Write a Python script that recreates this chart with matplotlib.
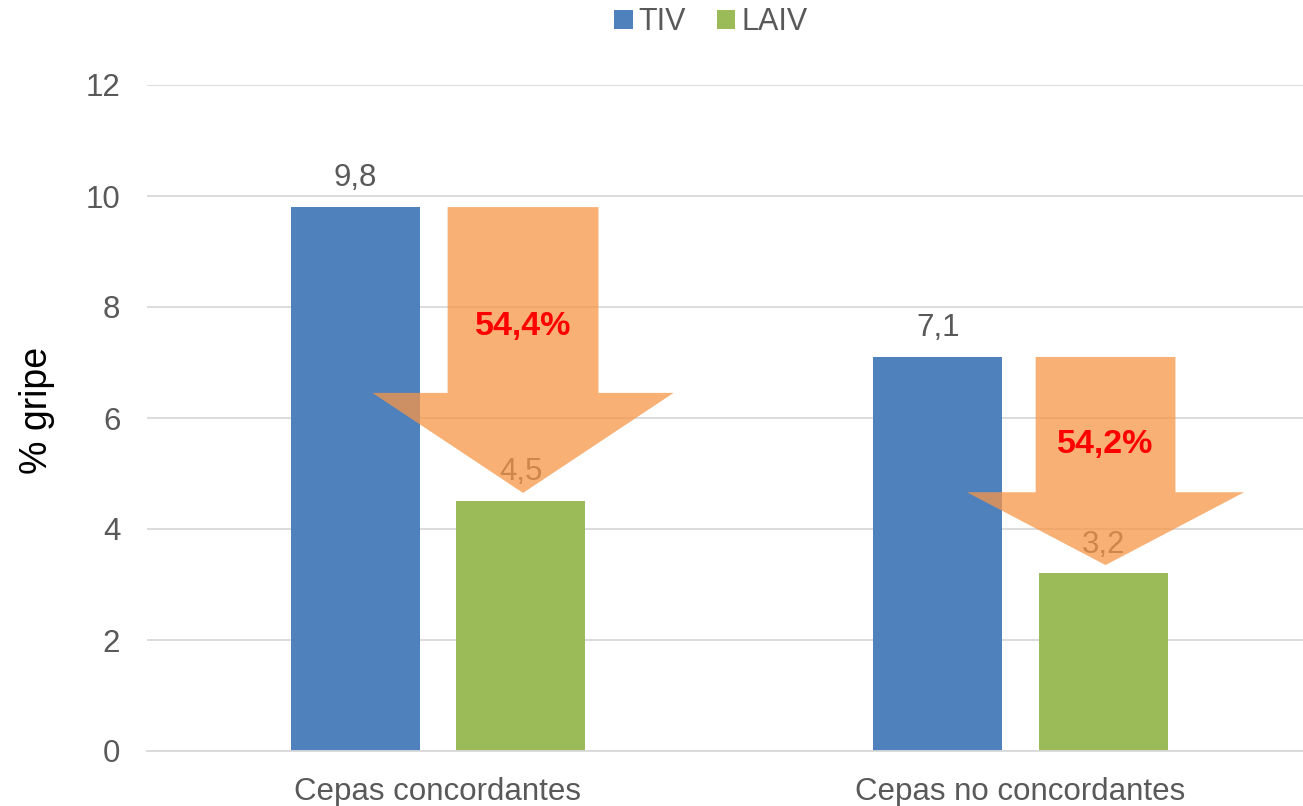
import numpy as np
import matplotlib
matplotlib.use("Agg")
import matplotlib.pyplot as plt
from matplotlib.patches import Polygon

plt.rcParams['font.family'] = ['Liberation Sans', 'DejaVu Sans']

# data
categories = ["Cepas concordantes", "Cepas no concordantes"]
tiv = [9.8, 7.1]
laiv = [4.5, 3.2]
reduction = [54.4, 54.2]

fmt = lambda v: f"{v:.1f}".replace(".", ",")

fig = plt.figure(figsize=(13.03, 8.06), dpi=100)
ax = fig.add_axes([146.75 / 1303, 55 / 806, 1165 / 1303, 666 / 806])

x = np.arange(len(categories))
w = 0.2215
off = 0.142
grey = "#595959"

b1 = ax.bar(x - off, tiv, w, color="#4F81BD", label="TIV", zorder=2)
b2 = ax.bar(x + off, laiv, w, color="#9BBB59", label="LAIV", zorder=2)

for xi, v in zip(x - off, tiv):
    ax.annotate(fmt(v), (xi, v), xytext=(0, 10), textcoords="offset points",
                ha="center", va="bottom", fontsize=22.5, color=grey, zorder=3)
for xi, v in zip(x + off, laiv):
    ax.annotate(fmt(v), (xi, v), xytext=(0, 10), textcoords="offset points",
                ha="center", va="bottom", fontsize=22.5, color=grey, zorder=3)

# downward arrows from TIV level to LAIV level
shaft_w = [0.259, 0.240]
head_w = [0.517, 0.476]
for i in range(len(categories)):
    cx = x[i] + off + 0.004
    top = tiv[i]
    tip = laiv[i] + 0.15
    base = tip + 0.35 * (top - tip)
    sw, hw = shaft_w[i] / 2, head_w[i] / 2
    pts = [(cx - sw, top), (cx + sw, top), (cx + sw, base), (cx + hw, base),
           (cx, tip), (cx - hw, base), (cx - sw, base)]
    ax.add_patch(Polygon(pts, closed=True, facecolor="#F79646", alpha=0.75,
                         edgecolor="none", zorder=4))
    ax.text(cx, base + 0.355 * (top - base), f"{fmt(reduction[i])}%",
            ha="center", va="center", fontsize=24.5, fontweight="bold",
            color="#FF0000", zorder=5)

ax.set_xlim(-0.5, 1.5)
ax.set_ylim(0, 12)
ax.set_yticks(range(0, 13, 2))
ax.set_xticks(x)
ax.set_xticklabels(categories)
ax.yaxis.grid(True, color="#D9D9D9", linewidth=1.3, zorder=0)
ax.set_axisbelow(True)
for s in ["top", "right", "left"]:
    ax.spines[s].set_visible(False)
ax.spines["bottom"].set_color("#D9D9D9")
ax.spines["bottom"].set_linewidth(1.3)
ax.tick_params(axis="both", length=0, labelsize=22.5, colors=grey)
ax.tick_params(axis="y", pad=19)
ax.tick_params(axis="x", pad=19)

fig.text(37 / 1303, 1 - 410 / 806, "% gripe", rotation=90, ha="center",
         va="center", fontsize=27, color="black")

fig.legend(handles=[b1, b2], labels=["TIV", "LAIV"], loc="center",
           bbox_to_anchor=(711 / 1303, 1 - 22 / 806), ncol=2, frameon=False,
           fontsize=22, handlelength=0.6, handleheight=0.6, handletextpad=0.2,
           columnspacing=1.0, labelcolor=grey)

fig.savefig("out.png", dpi=100)
